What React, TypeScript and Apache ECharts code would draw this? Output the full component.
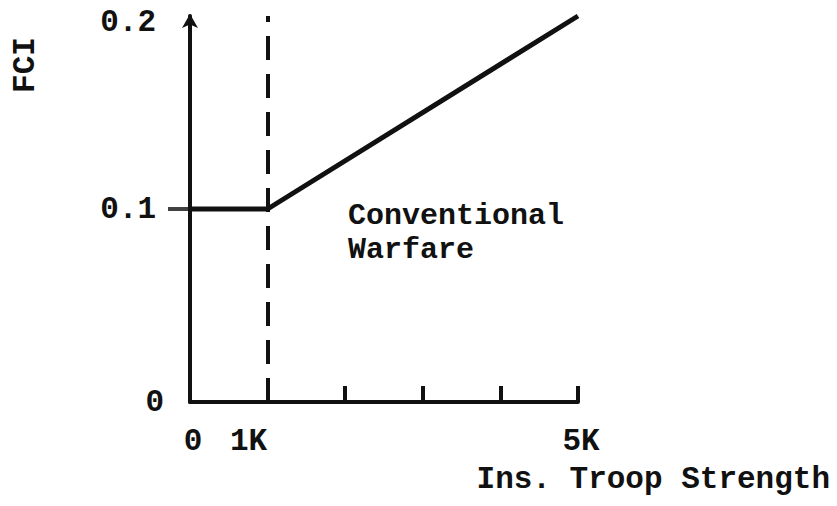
import React, { useEffect, useRef } from "react";
import * as echarts from "echarts";

const lineX = [0, 1000, 5000];
const lineY = [0.1, 0.1, 0.2];
const boundaryX = 1000;
const yTickValues = [0.1];
const xTickLabels: Record<number, string> = { 0: "{o|0}", 1000: "{k|1K}", 5000: "{o|5K}" };
const yTickLabels: Record<string, string> = { "0": "{z|0}", "0.1": "0.1", "0.2": "{t|0.2}" };
const regionLines = ["Conventional", "Warfare"];
const xName = "Ins. Troop Strength";
const yName = "FCI";

const INK = "#111";
const FONT = "Liberation Mono";

export default function App() {
  const ref = useRef<HTMLDivElement>(null);
  useEffect(() => {
    if (!ref.current) return;
    const chart = echarts.init(ref.current, null, { renderer: "svg" });
    const labelFont = { color: INK, fontFamily: FONT, fontWeight: "bold", fontSize: 31 };
    chart.setOption({
      animation: false,
      backgroundColor: "#fff",
      grid: { left: 190, right: 259, top: 16, bottom: 104 },
      xAxis: {
        type: "value",
        min: 0,
        max: 5000,
        interval: 1000,
        splitLine: { show: false },
        axisLine: { lineStyle: { color: INK, width: 4 } },
        axisTick: { show: true, inside: true, length: 16, lineStyle: { color: INK, width: 4 } },
        axisLabel: {
          margin: 24,
          ...labelFont,
          rich: {
            o: { ...labelFont, padding: [0, 0, 0, 6] },
            k: { ...labelFont, padding: [0, 38, 0, 0] },
          },
          formatter: (v: number) => xTickLabels[v] ?? "",
        },
      },
      yAxis: {
        type: "value",
        min: 0,
        max: 0.2,
        interval: 0.1,
        splitLine: { show: false },
        axisLine: {
          show: true,
          symbol: ["none", "arrow"],
          symbolSize: [12, 14],
          symbolOffset: [0, 2],
          lineStyle: { color: INK, width: 4 },
        },
        axisTick: { show: false },
        axisLabel: {
          margin: 34,
          ...labelFont,
          rich: {
            z: { ...labelFont, padding: [0, -8, 0, 0] },
            t: { ...labelFont, padding: [12, 0, 0, 0] },
          },
          formatter: (v: number) => yTickLabels[String(Math.round(v * 10) / 10)] ?? "",
        },
      },
      series: [
        {
          type: "line",
          data: lineX.map((x, i) => [x, lineY[i]]),
          symbol: "none",
          lineStyle: { color: INK, width: 5 },
          markLine: {
            silent: true,
            symbol: "none",
            label: { show: false },
            lineStyle: { color: INK, width: 4, type: [24, 14] },
            data: [{ xAxis: boundaryX }],
          },
        },
        {
          type: "scatter",
          clip: false,
          data: yTickValues.map((v) => [0, v]),
          symbol: "rect",
          symbolSize: [22, 4],
          symbolOffset: [-11, 0],
          itemStyle: { color: INK },
        },
      ],
      graphic: [
        ...regionLines.map((t, i) => ({
          type: "text",
          left: 348,
          top: 201 + i * 34,
          style: { text: t, fill: INK, font: `bold 30px "${FONT}"` },
        })),
        {
          type: "text",
          right: 7,
          top: 464,
          style: { text: xName, fill: INK, font: `bold 31px "${FONT}"` },
        },
        {
          type: "text",
          x: 25,
          y: 65,
          rotation: Math.PI / 2,
          style: {
            text: yName,
            fill: INK,
            font: `bold 31px "${FONT}"`,
            align: "center",
            verticalAlign: "middle",
          },
        },
      ],
    });
    return () => chart.dispose();
  }, []);
  return (
    <div
      ref={ref}
      style={{ position: "fixed", left: 0, top: 0, width: 837, height: 506 }}
    />
  );
}
